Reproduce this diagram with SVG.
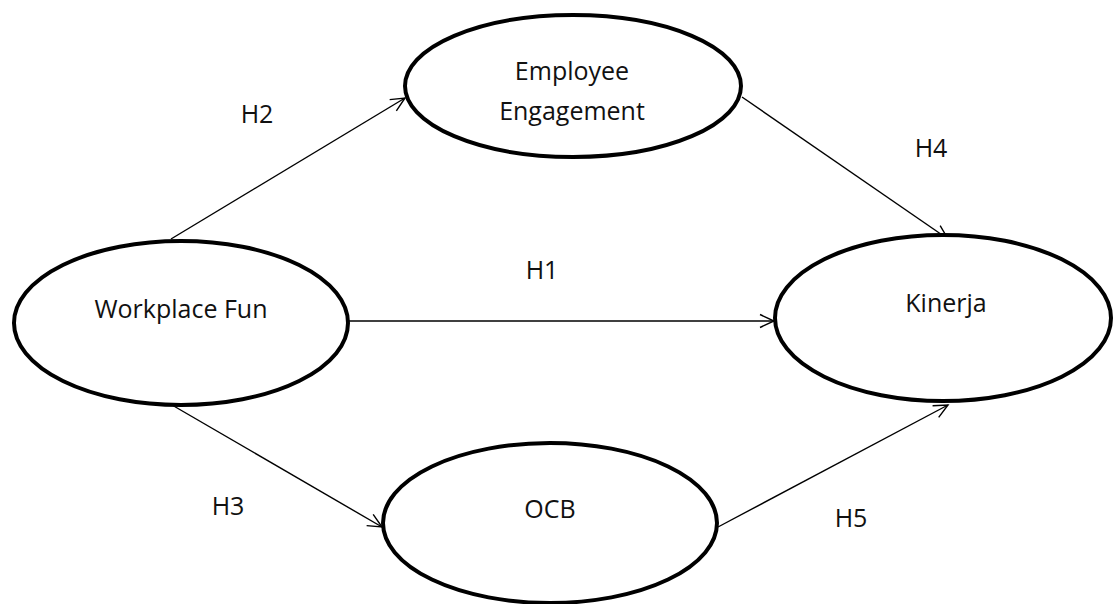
<svg xmlns="http://www.w3.org/2000/svg" width="1113" height="604" viewBox="0 0 1113 604">
  <style>
    .node { fill: #ffffff; stroke: #000000; stroke-width: 4; }
    .label { font-family: "Open Sans", "Liberation Sans", sans-serif; font-size: 25px; fill: #111111; text-anchor: middle; }
    .edge { stroke: #000000; stroke-width: 1.4; fill: none; marker-end: url(#arrow); }
  </style>
  <defs>
    <marker id="arrow" markerUnits="userSpaceOnUse" viewBox="-16 -9 18 18" refX="0" refY="0" markerWidth="18" markerHeight="18" orient="auto">
      <path d="M -14 -6.5 L 0 0 L -14 6.5" fill="none" stroke="#000000" stroke-width="1.4"/>
    </marker>
  </defs>
  <rect x="0" y="0" width="1113" height="604" fill="#ffffff"/>

  <!-- hypothesis paths -->
  <g id="connectors">
    <line class="edge" x1="171" y1="239" x2="405" y2="98"/>
    <line class="edge" x1="742" y1="97" x2="948" y2="239"/>
    <line class="edge" x1="348" y1="321" x2="774" y2="321"/>
    <line class="edge" x1="172" y1="405" x2="382" y2="527"/>
    <line class="edge" x1="718" y1="527" x2="948" y2="405"/>
    <text class="label" x="257" y="123">H2</text>
    <text class="label" x="931" y="157">H4</text>
    <text class="label" x="542" y="279">H1</text>
    <text class="label" x="228" y="515">H3</text>
    <text class="label" x="851" y="527">H5</text>
  </g>

  <g id="workplace-fun">
    <ellipse class="node" cx="181" cy="323" rx="167" ry="82"/>
    <text class="label" x="181" y="318">Workplace Fun</text>
  </g>

  <g id="employee-engagement">
    <ellipse class="node" cx="573" cy="86" rx="168" ry="71"/>
    <text class="label" x="572" y="80">Employee</text>
    <text class="label" x="572" y="120">Engagement</text>
  </g>

  <g id="kinerja">
    <ellipse class="node" cx="943" cy="318" rx="168" ry="83"/>
    <text class="label" x="946" y="312">Kinerja</text>
  </g>

  <g id="ocb">
    <ellipse class="node" cx="550" cy="523" rx="167" ry="80"/>
    <text class="label" x="550" y="518">OCB</text>
  </g>
</svg>
